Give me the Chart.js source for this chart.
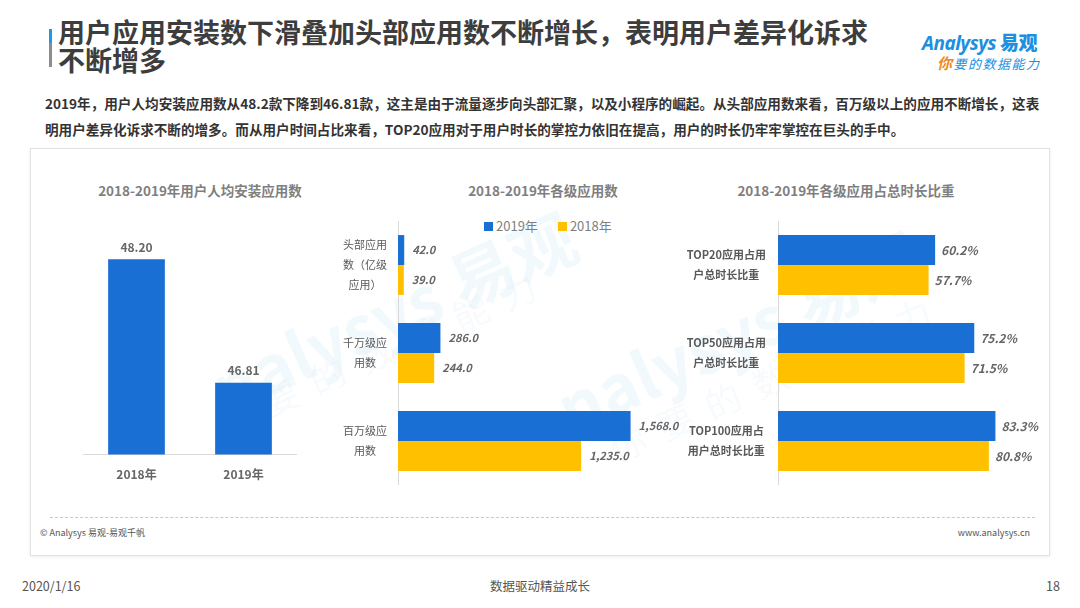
<!DOCTYPE html>
<html lang="zh-CN">
<head>
<meta charset="utf-8">
<title>用户应用安装数下滑叠加头部应用数不断增长</title>
<script src="https://cdn.jsdelivr.net/npm/chart.js@4.4.1/dist/chart.umd.min.js"></script>
<style>
  body {
    margin: 0;
    width: 1080px;
    height: 608px;
    position: relative;
    overflow: hidden;
    background: #fff;
    font-family: "Noto Sans CJK SC", "Noto Sans", sans-serif;
    color: #404040;
  }
  .abs { position: absolute; }
  #accent {
    left: 49px; top: 29px; width: 3px; height: 38px;
    background: linear-gradient(#1a9be6 0 38%, #8c8c8c 38% 100%);
  }
  #title {
    left: 58px; top: 18px;
    font-size: 27px; line-height: 28px; font-weight: bold; color: #3d3d3d;
  }
  #logo1 {
    left: 922px; top: 28px; font-size: 19px; font-weight: bold; color: #1c8fe0;
    font-family: "Noto Sans", sans-serif; font-style: italic; letter-spacing: -0.5px;
  }
  #logo1 b { font-family: "Noto Sans CJK SC", sans-serif; font-style: normal; margin-left: 4px; }
  #logo2 {
    left: 937px; top: 52px; font-size: 13px; font-style: italic; color: #1c8fe0; letter-spacing: 1.5px;
  }
  #logo2 span { color: #f08a1c; font-weight: bold; font-size: 15px; }
  #summary {
    left: 45px; top: 90px;
    font-size: 13.6px; line-height: 26px; font-weight: bold; color: #333;
    white-space: nowrap;
  }
  #panel {
    left: 30px; top: 148px; width: 1018px; height: 406px;
    border: 1px solid #e3e3e3; box-shadow: 0 1px 3px rgba(0,0,0,0.08);
  }
  #dots {
    left: 50px; top: 517px; width: 985px; height: 0;
    border-top: 1px dashed #c8c8c8;
  }
  .ctitle {
    top: 181px; width: 320px; text-align: center;
    font-size: 13.5px; line-height: 18px; font-weight: bold; color: #7f7f7f;
  }
  #legend {
    left: 484px; top: 216px; font-size: 13px; color: #7f7f7f; line-height: 20px;
  }
  #legend i {
    display: inline-block; width: 9px; height: 9px; margin-right: 3px; vertical-align: 0;
  }
  #legend span { margin-right: 20px; }
  .wm {
    color: rgba(26, 140, 214, 0.055); white-space: nowrap;
    transform-origin: left top; pointer-events: none;
  }
  .small { font-size: 9px; color: #555; top: 526px; }
  .foot { font-size: 12.5px; color: #555; top: 576px; }
  canvas { position: absolute; }
</style>
</head>
<body>

<div id="accent" class="abs"></div>
<div id="title" class="abs">用户应用安装数下滑叠加头部应用数不断增长，表明用户差异化诉求<br>不断增多</div>
<div id="logo1" class="abs">Analysys<b>易观</b></div>
<div id="logo2" class="abs"><span>你</span>要的数据能力</div>

<div id="summary" class="abs">2019年，用户人均安装应用数从48.2款下降到46.81款，这主是由于流量逐步向头部汇聚，以及小程序的崛起。从头部应用数来看，百万级以上的应用不断增长，这表<br>明用户差异化诉求不断的增多。而从用户时间占比来看，TOP20应用对于用户时长的掌控力依旧在提高，用户的时长仍牢牢掌控在巨头的手中。</div>

<div id="panel" class="abs"></div>

<div class="abs wm" style="left:195px; top:345px; font-size:66px; font-weight:bold; transform:rotate(-24deg);">nalysys 易观</div>
<div class="abs wm" style="left:205px; top:400px; font-size:36px; transform:rotate(-24deg); letter-spacing:16px;">你要的数据能力</div>
<div class="abs wm" style="left:540px; top:365px; font-size:66px; font-weight:bold; transform:rotate(-24deg);">nalysys 易观</div>
<div class="abs wm" style="left:600px; top:425px; font-size:36px; transform:rotate(-24deg); letter-spacing:16px;">你要的数据能力</div>

<div class="abs ctitle" style="left:40px;">2018-2019年用户人均安装应用数</div>
<div class="abs ctitle" style="left:383px;">2018-2019年各级应用数</div>
<div class="abs ctitle" style="left:686px;">2018-2019年各级应用占总时长比重</div>

<div id="legend" class="abs"></div>

<canvas id="installChart" style="left:83px; top:215px; width:214px; height:280px;"></canvas>
<canvas id="levelChart" style="left:330px; top:221px; width:380px; height:264px;"></canvas>
<canvas id="shareChart" style="left:680px; top:221px; width:380px; height:264px;"></canvas>

<div id="dots" class="abs"></div>
<div class="abs small" style="left:40px;">© Analysys 易观-易观千帆</div>
<div class="abs small" style="right:50px;">www.analysys.cn</div>

<div class="abs foot" style="left:22px;">2020/1/16</div>
<div class="abs foot" style="left:0; width:1080px; text-align:center;">数据驱动精益成长</div>
<div class="abs foot" style="right:20px;">18</div>

<script>
'use strict';

// data

let yearLabels = ['2018年', '2019年'];
let installsPerUser = [48.20, 46.81];

let levelLabels = [['头部应用', '数（亿级', '应用）'], ['千万级应', '用数'], ['百万级应', '用数']];
let apps2019 = [42, 286, 1568];
let apps2018 = [39, 244, 1235];

let shareLabels = [['TOP20应用占用', '户总时长比重'], ['TOP50应用占用', '户总时长比重'], ['TOP100应用占', '用户总时长比重']];
let share2019 = [60.2, 75.2, 83.3];
let share2018 = [57.7, 71.5, 80.8];

let seriesNames = ['2019年', '2018年'];

// styles

const BLUE = '#1a6fd4';
const YELLOW = '#ffc000';
const FONT = '"Noto Sans CJK SC", "Noto Sans", sans-serif';
const AXIS_LINE = '#d9d9d9';

Chart.defaults.font.family = FONT;
Chart.defaults.animation = false;
Chart.defaults.plugins.legend.display = false;
Chart.defaults.plugins.tooltip.enabled = false;
Chart.defaults.maintainAspectRatio = false;
Chart.defaults.responsive = false;

// legend

document.querySelector('#legend').innerHTML =
  `<span><i style="background:${BLUE}"></i>${seriesNames[0]}</span>` +
  `<span><i style="background:${YELLOW}"></i>${seriesNames[1]}</span>`;

// value labels drawn next to each bar

function valueLabels(format, font, offset, horizontal) {
  return {
    id: 'valueLabels',
    afterDatasetsDraw(chart) {
      let ctx = chart.ctx;
      ctx.save();
      ctx.font = font;
      ctx.fillStyle = '#666';
      chart.data.datasets.forEach((ds, i) => {
        chart.getDatasetMeta(i).data.forEach((bar, j) => {
          let text = format(ds.data[j]);
          if (horizontal) {
            ctx.textAlign = 'left';
            ctx.textBaseline = 'middle';
            ctx.fillText(text, bar.x + offset, bar.y);
          } else {
            ctx.textAlign = 'center';
            ctx.textBaseline = 'bottom';
            ctx.fillText(text, bar.x, bar.y - offset);
          }
        });
      });
      ctx.restore();
    }
  };
}

// fixed label column, and no extra room reserved for the multi-line labels
function fixWidth(w) {
  return function (scale) {
    scale.width = w;
    scale.paddingTop = 0;
    scale.paddingBottom = 0;
  };
}

// chart 1: installs per user

new Chart(document.getElementById('installChart'), {
  type: 'bar',
  data: {
    labels: yearLabels,
    datasets: [{
      data: installsPerUser,
      backgroundColor: BLUE,
      barPercentage: 0.53,
      categoryPercentage: 1
    }]
  },
  options: {
    layout: { padding: 0 },
    scales: {
      y: { display: false, min: 46, max: 48.7 },
      x: {
        grid: { display: false, drawTicks: false },
        border: { display: true, color: AXIS_LINE },
        ticks: { color: '#666', font: { size: 12, weight: 'bold' }, padding: 13 }
      }
    }
  },
  plugins: [valueLabels(v => v.toFixed(2), 'bold 12px ' + FONT, 6, false)]
});

// chart 2: apps by level

new Chart(document.getElementById('levelChart'), {
  type: 'bar',
  data: {
    labels: levelLabels,
    datasets: [
      { label: seriesNames[0], data: apps2019, backgroundColor: BLUE },
      { label: seriesNames[1], data: apps2018, backgroundColor: YELLOW }
    ]
  },
  options: {
    indexAxis: 'y',
    layout: { padding: { right: 45 } },
    datasets: { bar: { barPercentage: 1, categoryPercentage: 0.68 } },
    scales: {
      x: { display: false, min: 0, max: 1800 },
      y: {
        afterFit: fixWidth(68),
        grid: { display: false, drawTicks: false },
        border: { display: true, color: AXIS_LINE },
        ticks: { color: '#595959', crossAlign: 'center', padding: 11, font: { size: 11, lineHeight: 1.8 } }
      }
    }
  },
  plugins: [valueLabels(v => v.toLocaleString('en-US', { minimumFractionDigits: 1 }), 'italic bold 11px ' + FONT, 8, true)]
});

// chart 3: share of total time

new Chart(document.getElementById('shareChart'), {
  type: 'bar',
  data: {
    labels: shareLabels,
    datasets: [
      { label: seriesNames[0], data: share2019, backgroundColor: BLUE },
      { label: seriesNames[1], data: share2018, backgroundColor: YELLOW }
    ]
  },
  options: {
    indexAxis: 'y',
    layout: { padding: { right: 21 } },
    datasets: { bar: { barPercentage: 1, categoryPercentage: 0.68 } },
    scales: {
      x: { display: false, min: 0, max: 100 },
      y: {
        afterFit: fixWidth(98),
        grid: { display: false, drawTicks: false },
        border: { display: true, color: AXIS_LINE },
        ticks: { color: '#595959', crossAlign: 'center', padding: 12, font: { size: 11, weight: 'bold', lineHeight: 1.8 } }
      }
    }
  },
  plugins: [valueLabels(v => v.toFixed(1) + '%', 'italic bold 12px ' + FONT, 6, true)]
});
</script>
</body>
</html>
